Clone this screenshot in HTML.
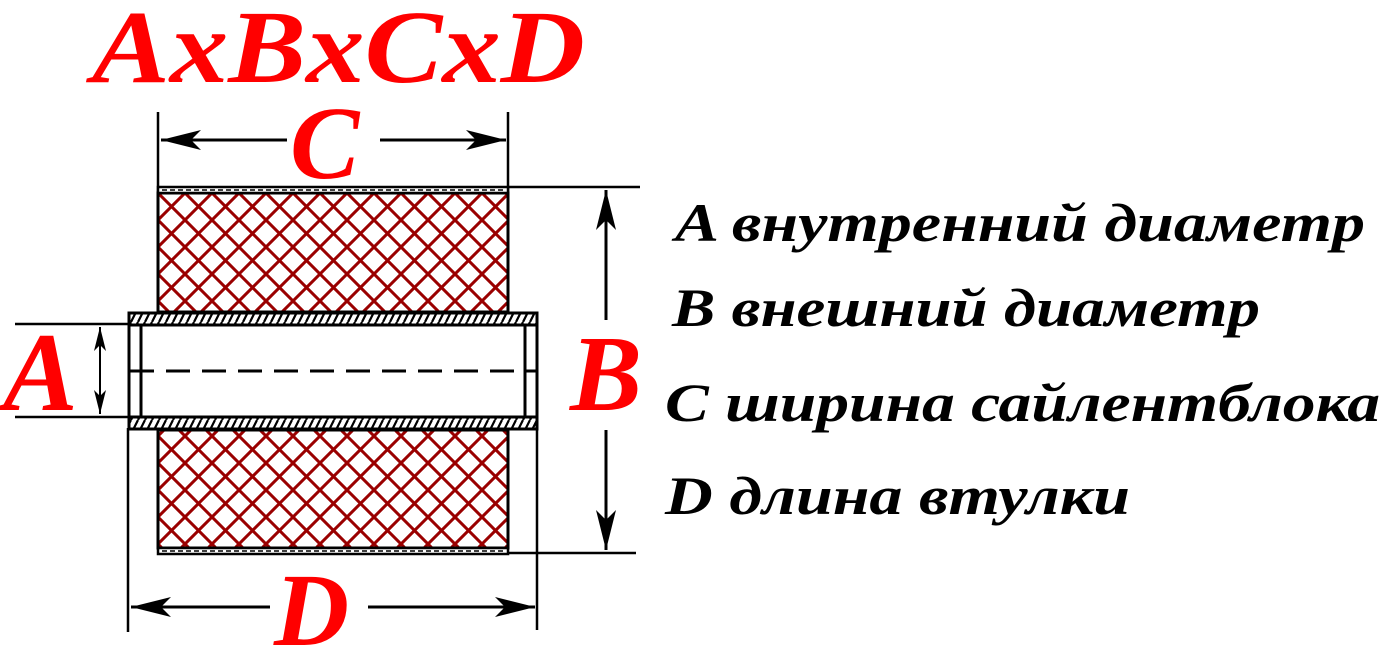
<!DOCTYPE html>
<html><head><meta charset="utf-8"><style>
html,body{margin:0;padding:0;background:#fff;}
svg{display:block;}
.r{font-family:"Liberation Serif",serif;font-weight:bold;font-style:italic;fill:#ff0000;}
.k{font-family:"Liberation Serif",serif;font-weight:bold;font-style:italic;fill:#000;font-size:54px;}
</style></head><body>
<svg width="1387" height="652" viewBox="0 0 1387 652" xmlns="http://www.w3.org/2000/svg">
<defs>
<pattern id="x" width="27" height="27" patternUnits="userSpaceOnUse" x="158" y="193">
<path d="M0,0 L27,27 M27,0 L0,27" stroke="#9a0000" stroke-width="3"/>
</pattern>
<pattern id="h" width="7" height="14" patternUnits="userSpaceOnUse">
<path d="M-2,14 L5,0 M5,14 L12,0" stroke="#000" stroke-width="2.2"/>
</pattern>
<marker id="a" viewBox="0 0 20 10" refX="20" refY="5" markerWidth="40" markerHeight="20" markerUnits="userSpaceOnUse" orient="auto-start-reverse">
<path d="M0,0 L20,5 L0,10 L5,5 Z" fill="#000"/>
</marker>
<marker id="s" viewBox="0 0 20 10" refX="20" refY="5" markerWidth="24" markerHeight="14" markerUnits="userSpaceOnUse" orient="auto-start-reverse">
<path d="M0,0 L20,5 L0,10 L5,5 Z" fill="#000"/>
</marker>
</defs>

<text class="r" x="92" y="82" font-size="104" textLength="493" lengthAdjust="spacingAndGlyphs">AxBxCxD</text>

<g stroke="#000" stroke-width="2.5" fill="none">
<line x1="158" y1="112" x2="158" y2="192"/>
<line x1="508" y1="112" x2="508" y2="192"/>
<line x1="128" y1="428" x2="128" y2="632"/>
<line x1="537" y1="428" x2="537" y2="630"/>
<line x1="508" y1="187" x2="640" y2="187"/>
<line x1="508" y1="553" x2="636" y2="553"/>
<line x1="15" y1="324" x2="130" y2="324"/>
<line x1="15" y1="417" x2="130" y2="417"/>
</g>

<g stroke="#000" stroke-width="3" fill="none">
<line x1="287" y1="140" x2="161" y2="140" marker-end="url(#a)"/>
<line x1="380" y1="140" x2="506" y2="140" marker-end="url(#a)"/>
<line x1="270" y1="607" x2="131" y2="607" marker-end="url(#a)"/>
<line x1="368" y1="607" x2="535" y2="607" marker-end="url(#a)"/>
<line x1="606" y1="320" x2="606" y2="190" marker-end="url(#a)"/>
<line x1="606" y1="430" x2="606" y2="550" marker-end="url(#a)"/>
<line x1="100" y1="370" x2="100" y2="327" marker-end="url(#s)" stroke-width="2"/>
<line x1="100" y1="370" x2="100" y2="414" marker-end="url(#s)" stroke-width="2"/>
</g>

<rect x="158" y="193" width="350" height="119" fill="url(#x)" stroke="#000" stroke-width="3"/>
<rect x="158" y="430" width="350" height="118" fill="url(#x)" stroke="#000" stroke-width="3"/>
<rect x="158" y="187" width="350" height="6" fill="#fff" stroke="#000" stroke-width="2.5"/>
<line x1="162" y1="190" x2="504" y2="190" stroke="#000" stroke-width="1.5" stroke-dasharray="5,3"/>
<rect x="158" y="548" width="350" height="6" fill="#fff" stroke="#000" stroke-width="2.5"/>
<line x1="162" y1="551" x2="504" y2="551" stroke="#000" stroke-width="1.5" stroke-dasharray="5,3"/>

<rect x="129" y="313" width="408" height="12" fill="url(#h)" stroke="#000" stroke-width="3"/>
<rect x="129" y="417" width="408" height="12" fill="url(#h)" stroke="#000" stroke-width="3"/>
<rect x="129" y="325" width="408" height="92" fill="#fff" stroke="#000" stroke-width="3"/>
<line x1="141" y1="325" x2="141" y2="417" stroke="#000" stroke-width="3"/>
<line x1="525" y1="325" x2="525" y2="417" stroke="#000" stroke-width="3"/>
<line x1="130" y1="371" x2="536" y2="371" stroke="#000" stroke-width="3" stroke-dasharray="24,12"/>

<text class="r" x="290" y="178" font-size="104">C</text>
<text class="r" x="274" y="645" font-size="104">D</text>
<text class="r" x="570" y="410" font-size="108">B</text>
<text class="r" x="3" y="410" font-size="112">A</text>

<text class="k" x="675" y="241" textLength="690" lengthAdjust="spacingAndGlyphs">A внутренний диаметр</text>
<text class="k" x="672" y="326" textLength="588" lengthAdjust="spacingAndGlyphs">B внешний диаметр</text>
<text class="k" x="665" y="421" textLength="715" lengthAdjust="spacingAndGlyphs">C ширина сайлентблока</text>
<text class="k" x="665" y="514" textLength="465" lengthAdjust="spacingAndGlyphs">D длина втулки</text>
</svg>
</body></html>
